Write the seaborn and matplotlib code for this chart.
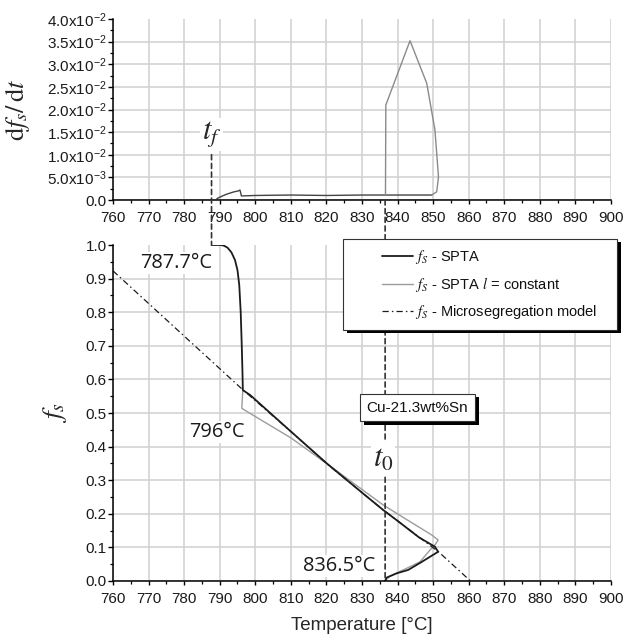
import matplotlib
matplotlib.use("Agg")
import matplotlib.pyplot as plt
import matplotlib.patheffects as pe
from matplotlib.patches import ConnectionPatch
from matplotlib.lines import Line2D
from matplotlib.legend_handler import HandlerLine2D
from matplotlib.ticker import MultipleLocator, FixedLocator, FixedFormatter
import seaborn as sns

# ---------------- data ----------------
# characteristic temperatures [°C]
t_f = 787.7      # end of solidification
t_mid = 796.0    # kink of the SPTA curve
t_0 = 836.5      # start of solidification

# solid fraction from SPTA (ordered in time, from t_0 to t_f)
spta_T = [836.5, 836.9, 839.8, 843.0, 846.5, 849.1, 851.4, 850.5, 846.0, 840.0,
          836.0, 830.0, 820.1, 810.0, 798.5, 796.5, 796.4, 796.2, 795.9, 795.5,
          795.0, 794.3, 793.3, 792.2, 791.2, 790.3, 787.7]
spta_fs = [0.000, 0.010, 0.023, 0.033, 0.055, 0.072, 0.087, 0.102, 0.130, 0.179,
           0.211, 0.263, 0.350, 0.445, 0.554, 0.568, 0.620, 0.700, 0.800, 0.880,
           0.925, 0.955, 0.978, 0.992, 0.998, 1.000, 1.000]

# solid fraction from SPTA with constant l
const_T = [836.5, 837.9, 841.6, 846.3, 849.1, 850.5, 851.4, 849.6, 843.0, 836.0,
           828.0, 820.0, 810.0, 798.5, 796.2, 796.5]
const_fs = [0.000, 0.015, 0.033, 0.057, 0.092, 0.107, 0.122, 0.137, 0.180, 0.226,
            0.288, 0.350, 0.426, 0.499, 0.514, 0.568]

# microsegregation model
model_T = [760.0, 780.0, 796.3, 810.0, 820.0, 836.0, 851.5, 860.5]
model_fs = [0.923, 0.729, 0.571, 0.445, 0.350, 0.211, 0.087, 0.000]

# solidification rate dfs/dt, SPTA
rate_T = [789.2, 790.5, 792.0, 794.0, 795.2, 795.7, 796.1, 800.0, 810.0, 820.0,
          830.0, 836.5, 845.0, 849.6]
rate = [0.0003, 0.0008, 0.0013, 0.0018, 0.0020, 0.0022, 0.0009, 0.0010, 0.0011,
        0.0010, 0.0011, 0.0011, 0.0011, 0.0011]

# solidification rate dfs/dt, SPTA with constant l (peak region)
peak_T = [836.6, 836.7, 843.5, 848.2, 850.5, 851.5, 851.0, 849.6]
peak_rate = [0.0011, 0.0210, 0.0352, 0.0258, 0.0155, 0.0051, 0.0018, 0.0011]

temp_ticks = list(range(760, 901, 10))
fs_ticks = [0.0, 0.1, 0.2, 0.3, 0.4, 0.5, 0.6, 0.7, 0.8, 0.9, 1.0]
rate_ticks = [0.0, 0.005, 0.010, 0.015, 0.020, 0.025, 0.030, 0.035, 0.040]
rate_labels = ["0.0",
               r"5.0x10$^{\mathregular{-3}}$",
               r"1.0x10$^{\mathregular{-2}}$",
               r"1.5x10$^{\mathregular{-2}}$",
               r"2.0x10$^{\mathregular{-2}}$",
               r"2.5x10$^{\mathregular{-2}}$",
               r"3.0x10$^{\mathregular{-2}}$",
               r"3.5x10$^{\mathregular{-2}}$",
               r"4.0x10$^{\mathregular{-2}}$"]

legend_labels = [r"$f_S$ - SPTA",
                 r"$f_S$ - SPTA $l$ = constant",
                 r"$f_S$ - Microsegregation model"]
alloy_label = "Cu-21.3wt%Sn"

# ---------------- style ----------------
sns.set_theme(style="white")
plt.rcParams["font.family"] = ["Liberation Sans", "DejaVu Sans"]
plt.rcParams["mathtext.fontset"] = "stix"

BLACK = "#1c1c1c"
GREY = "#9c9c9c"
GRID = "#d0d0d0"
DASHDOT = (0, (5, 2.5, 1.2, 2.5))

W, H = 633, 638
fig = plt.figure(figsize=(W / 100, H / 100), dpi=100)
fig.patch.set_facecolor("white")


def fx(px):
    return px / W


def fy(py):
    return 1 - py / H


ax_top = fig.add_axes([fx(113), fy(200), (611 - 113) / W, (200 - 19) / H])
ax_bot = fig.add_axes([fx(113), fy(581), (611 - 113) / W, (581 - 245) / H])

# ---------------- curves ----------------
sns.lineplot(x=rate_T, y=rate, ax=ax_top, sort=False, estimator=None,
             color="#444444", lw=1.0)
sns.lineplot(x=peak_T, y=peak_rate, ax=ax_top, sort=False, estimator=None,
             color="#8a8a8a", lw=1.0)

sns.lineplot(x=const_T, y=const_fs, ax=ax_bot, sort=False, estimator=None,
             color=GREY, lw=1.0, label=legend_labels[1])
sns.lineplot(x=spta_T, y=spta_fs, ax=ax_bot, sort=False, estimator=None,
             color=BLACK, lw=1.3, label=legend_labels[0])
sns.lineplot(x=model_T, y=model_fs, ax=ax_bot, sort=False, estimator=None,
             color=BLACK, lw=0.9, linestyle=DASHDOT, label=legend_labels[2])

# ---------------- axes ----------------
for ax in (ax_top, ax_bot):
    ax.set_xlim(760, 900)
    ax.xaxis.set_major_locator(FixedLocator(temp_ticks))
    ax.xaxis.set_minor_locator(MultipleLocator(5))
    sns.despine(ax=ax)
    for s in ("left", "bottom"):
        ax.spines[s].set_color("black")
        ax.spines[s].set_linewidth(1.1)
    ax.set_axisbelow(True)
    ax.grid(True, which="major", color=GRID, lw=1.1)
    ax.tick_params(axis="x", which="major", direction="out", length=3, width=1.0,
                   color="black", labelsize=11, labelcolor="#1a1a1a", pad=5,
                   bottom=True)
    ax.tick_params(axis="x", which="minor", direction="out", length=2, width=0.9,
                   color="black", bottom=True)
    ax.tick_params(axis="y", which="major", direction="out", length=3.5, width=1.0,
                   color="black", labelsize=11, labelcolor="#1a1a1a", pad=1,
                   left=True)
    ax.tick_params(axis="y", which="minor", direction="out", length=2, width=0.9,
                   color="black", left=True)
    ax.set_xlabel("")
    ax.set_ylabel("")

ax_top.set_ylim(0, 0.04)
ax_top.yaxis.set_major_locator(FixedLocator(rate_ticks))
ax_top.yaxis.set_major_formatter(FixedFormatter(rate_labels))
ax_top.yaxis.set_minor_locator(MultipleLocator(0.0025))
ax_top.set_ylabel(r"$\mathrm{d}f_s/\,\mathrm{d}t$", fontsize=19, labelpad=11)

ax_bot.set_ylim(0, 1.0)
ax_bot.yaxis.set_major_locator(FixedLocator(fs_ticks))
ax_bot.yaxis.set_major_formatter(FixedFormatter([f"{v:.1f}" for v in fs_ticks]))
ax_bot.yaxis.set_minor_locator(MultipleLocator(0.05))
ax_bot.set_ylabel(r"$f_s$", fontsize=20, labelpad=12)
ax_bot.set_xlabel("Temperature [°C]", fontsize=13.5, labelpad=8)

# no grid line along the top edge
ax_top.get_ygridlines()[-1].set_visible(False)
ax_bot.get_ygridlines()[-1].set_visible(False)

# ---------------- markers of t_f and t_0 ----------------
con_f = ConnectionPatch(xyA=(t_f, 0.0100), coordsA=ax_top.transData,
                        xyB=(t_f, 1.0), coordsB=ax_bot.transData,
                        linestyle=(0, (3, 2.2)), color="#333333", lw=1.2, zorder=3)
ax_bot.add_artist(con_f)
con_0 = ConnectionPatch(xyA=(t_0, 0.0), coordsA=ax_top.transData,
                        xyB=(t_0, 0.0), coordsB=ax_bot.transData,
                        linestyle=(0, (3, 2.2)), color="#333333", lw=1.2, zorder=3)
ax_bot.add_artist(con_0)

white_box = dict(boxstyle="square,pad=0.05", fc="white", ec="none")
ax_top.text(t_f, 0.0145, r"$t_f$", fontsize=22, ha="center", va="center",
            bbox=white_box, zorder=4)
ax_bot.text(t_0 - 0.6, 0.365, r"$t_0$", fontsize=22, ha="center", va="center",
            bbox=white_box, zorder=4)

ann_kw = dict(fontsize=14.4, family=["Open Sans", "DejaVu Sans"], ha="center",
              va="center", color="#1a1a1a", bbox=white_box, zorder=4)
ax_bot.text(777.85, 0.946, f"{t_f}°C", **ann_kw)
ax_bot.text(789.1, 0.443, f"{t_mid:g}°C", **ann_kw)
ax_bot.text(823.7, 0.045, f"{t_0}°C", **ann_kw)

shadow = [pe.withSimplePatchShadow(offset=(3, -2.5), shadow_rgbFace="black",
                                   alpha=1.0)]
alloy = ax_bot.text(845.6, 0.516, alloy_label, fontsize=11, ha="center",
                    va="center", color="#111111", zorder=6,
                    bbox=dict(boxstyle="square,pad=0.45", fc="white",
                              ec="#333333", lw=0.8))
alloy.get_bbox_patch().set_path_effects(shadow)

# ---------------- legend ----------------
lines = {ln.get_label(): ln for ln in ax_bot.get_lines()}
handles = [lines[lbl] for lbl in legend_labels]
leg = ax_bot.legend(handles, legend_labels, loc="upper left", mode="expand",
                    bbox_to_anchor=(fx(343), fy(327), (617 - 343) / W,
                                    (327 - 239) / H),
                    bbox_transform=fig.transFigure, borderaxespad=0,
                    borderpad=0.6, labelspacing=0.62, handlelength=4.2,
                    handletextpad=0.15, fontsize=10.5, frameon=True,
                    fancybox=False,
                    handler_map={Line2D: HandlerLine2D(xpad=2.05)})
leg.get_frame().set_edgecolor("#333333")
leg.get_frame().set_linewidth(0.8)
leg.get_frame().set_facecolor("white")
leg.get_frame().set_alpha(1.0)
leg.get_frame().set_path_effects(shadow)
leg.set_zorder(5)
for txt in leg.get_texts():
    txt.set_color("#111111")

fig.savefig("out.png", dpi=100, facecolor="white")
